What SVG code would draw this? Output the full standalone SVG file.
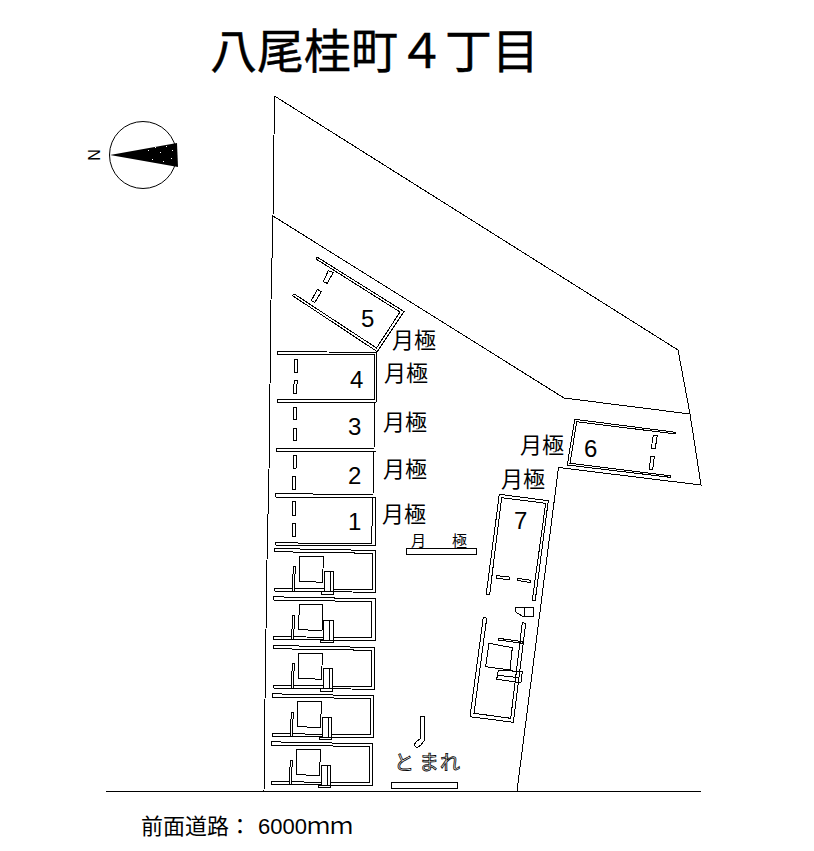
<svg xmlns="http://www.w3.org/2000/svg" xmlns:xlink="http://www.w3.org/1999/xlink" width="814" height="851" viewBox="0 0 814 851">
<style>
.l{fill:none;stroke:#000;stroke-width:1}
.w{fill:#fff;stroke:#000;stroke-width:1}
.c{shape-rendering:crispEdges}
text{fill:#000;font-family:"Noto Sans CJK JP","Liberation Sans",sans-serif}
.m{font-size:22px}
.n{font-size:24px;font-family:"Liberation Sans",sans-serif}
.s{font-size:20px;fill:#fff;stroke:#000;stroke-width:.8}
</style>
<defs>
<g id="house">
<path class="l" d="M274,548.5L375.7,550.5V592.3L274,591V588.3L372.3,589.5V553.3L274,551.7Z"/>
<path class="l" d="M300,556.3H323.3L322.7,582.3L299.3,581.3Z"/>
<path class="w" d="M293.3,566.7H295.3L294.3,591H292.3Z"/>
<path class="w" d="M324.3,571.7H333.7V591.7H324.3ZM330,571.7V591.7"/>
<path class="w" d="M321.3,591.7H333.7V594.3H321.3Z"/>
</g>
</defs>
<rect width="814" height="851" fill="#fff"/>
<g id="connectors" class="c">
<path class="l" d="M274.5,96L678,350L690,414L701,485L558.5,467.5L517,791"/>
<path class="l" d="M273,216L564,398L690,414"/>
<path class="l" d="M274.5,96L273,216L271,300L269,470L267,560L265,700L264,791"/>
<path class="l" d="M106,791.5H701"/>
</g>
<g id="title"><text x="210" y="68" style="font-size:47px;stroke:#000;stroke-width:.4">八尾桂町４丁目</text></g>
<g id="north">
<circle class="l" cx="143" cy="155" r="33.5"/>
<path d="M110,155L177,143L178,167Z" fill="#000"/>
<path d="M148,150h1v1h-1zM155,147h1v1h-1zM160,152h1v1h-1zM166,146h1v1h-1zM171,158h1v1h-1zM152,159h1v1h-1zM163,161h1v1h-1zM172,150h1v1h-1z" fill="#fff"/>
<text transform="translate(100,155) rotate(-90)" text-anchor="middle" style="font-size:16px;font-family:'Liberation Sans',sans-serif">N</text>
</g>
<g id="lot5" class="c">
<path class="l" d="M317,257L404,311.5L377.3,351.7L292.3,295.5L294,293.8L376.5,348L400,312L316,259Z"/>
<path class="l" d="M328.3,270.7L333.3,272.3L327.3,283.3L323.3,281.7ZM317.3,289.3L321.3,291.7L315,302.3L311.3,300.7Z"/>
<text class="n" x="361" y="327">5</text>
<text class="m" x="392" y="348">月極</text>
</g>
<g id="lot4" class="c">
<path class="l" d="M277,351.5L377,352.5L376,403L277,402.3V399.3L374.5,400L375,355L277,354.7Z"/>
<path class="l" d="M294.3,359.3H297.6V372.6H294.3ZM294.3,380.3H297.3L296.3,393.3H293.3Z"/>
<text class="n" x="350" y="388">4</text>
<text class="m" x="384" y="381">月極</text>
</g>
<g id="lot3" class="c">
<path class="l" d="M374.5,403L374,448.7L276.7,448.3V451.3L376,452"/>
<path class="l" d="M293.3,407.3H296.6V419H293.3ZM293.3,428.3H296.6V440.7H293.3Z"/>
<text class="n" x="348" y="435">3</text>
<text class="m" x="383" y="430">月極</text>
</g>
<g id="lot2" class="c">
<path class="l" d="M373.5,452L373,494.5L275.3,493.7V497L375.5,498"/>
<path class="l" d="M293.3,455H296.6L296,468H293.3ZM292.3,476H295.6V489.3H292.3Z"/>
<text class="n" x="348" y="484">2</text>
<text class="m" x="383" y="477">月極</text>
</g>
<g id="lot1" class="c">
<path class="l" d="M372.5,498L371.7,544L275.3,542.7V545L375.7,546L376,498"/>
<path class="l" d="M292.3,501.7H295.6V515.7H292.3ZM292.3,523.3H295.6V536.7H292.3Z"/>
<text class="n" x="348" y="530">1</text>
<text class="m" x="382" y="522">月極</text>
</g>
<g id="house1" class="c"><use xlink:href="#house"/></g>
<g id="house2" class="c"><use xlink:href="#house" x="-0.7" y="48.3"/></g>
<g id="house3" class="c"><use xlink:href="#house" x="-1" y="97"/></g>
<g id="house4" class="c"><use xlink:href="#house" x="-2" y="145.3"/></g>
<g id="house5" class="c"><use xlink:href="#house" x="-3" y="193.3"/></g>
<g id="parking-label" class="c">
<rect class="l" x="406.5" y="548" width="70" height="6"/>
<text x="411" y="546" style="font-size:15px">月</text>
<text x="452" y="546" style="font-size:15px">極</text>
</g>
<g id="lot6" class="c">
<path class="l" d="M675.7,432.3L574.7,419.3L567.3,465L670,477.3V475.7L570,463.3L576.7,421.7L675.7,434Z"/>
<path class="l" d="M653.3,435H657.3L655.3,448.3H651.3ZM650.7,456.7H654.3L652.7,469H649.3Z"/>
<text class="n" x="584" y="457">6</text>
<text class="m" x="520" y="453">月極</text>
</g>
<g id="lot7" class="c">
<path class="l" d="M499.3,494.3L548.3,500.7L535.3,600H532.3L545.7,503.3L501.7,497.7L489.7,594H486.3Z"/>
<path class="l" d="M496.7,575.7L509.3,577L509,579.7L496.3,578.3ZM517.3,578.3L531,580.3L530.3,582.7L517.7,580.3Z"/>
<path class="l" d="M515.3,607.3H533.3V616.7H523.3L515.7,612ZM524.3,607.3V616.7"/>
<text class="n" x="514" y="529">7</text>
<text class="m" x="501" y="487">月極</text>
</g>
<g id="rear-house" class="c">
<path class="l" d="M483.3,617.3L470,716.7L513.3,722.3L525.7,623.3L522.3,622.7L510.7,718.3L474,713.3L486.7,618.3Z"/>
<path class="l" d="M489,643.3L512.3,647.7L510,670L485.7,666.7Z"/>
<path class="l" d="M498.3,638.3L523.3,641.7L522.7,643.3L498.3,640Z"/>
<path class="l" d="M498.3,670L522.3,671.7L521,682.7L496.7,679.3ZM497.7,675.3L519,677.7"/>
</g>
<g id="stop" class="c">
<path class="l" d="M421,716H424V741L421,745L417,748L414,745L417,741L420,739Z"/>
<rect class="l" x="391.5" y="782.5" width="66" height="6"/>
</g>
<g id="stop-text"><text class="s" x="394" y="770">と</text><text class="s" x="419" y="770">ま</text><text class="s" x="440" y="770">れ</text></g>
<g id="road-label"><text x="141" y="834" style="font-size:22px">前面道路：</text><text x="258" y="834" style="font-size:22px;font-family:'Liberation Sans',sans-serif">6000</text><text x="307" y="834" style="font-size:23px">ｍｍ</text></g>
</svg>
